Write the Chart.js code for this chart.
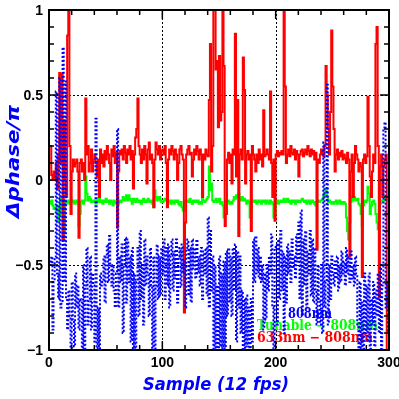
<!DOCTYPE html>
<html>
<head>
<meta charset="utf-8">
<script src="https://cdn.jsdelivr.net/npm/chart.js@4/dist/chart.umd.min.js"></script>
<style>
html,body{margin:0;padding:0;background:#fff;}
#wrap{width:399px;height:399px;position:relative;}
</style>
</head>
<body>
<div id="wrap"><canvas id="c" width="399" height="399"></canvas></div>
<script>
// sample index (frames 0..299)
const samples = [
0,1,2,3,4,5,6,7,8,9,10,11,12,13,14,15,16,17,18,19,
20,21,22,23,24,25,26,27,28,29,30,31,32,33,34,35,36,37,38,39,
40,41,42,43,44,45,46,47,48,49,50,51,52,53,54,55,56,57,58,59,
60,61,62,63,64,65,66,67,68,69,70,71,72,73,74,75,76,77,78,79,
80,81,82,83,84,85,86,87,88,89,90,91,92,93,94,95,96,97,98,99,
100,101,102,103,104,105,106,107,108,109,110,111,112,113,114,115,116,117,118,119,
120,121,122,123,124,125,126,127,128,129,130,131,132,133,134,135,136,137,138,139,
140,141,142,143,144,145,146,147,148,149,150,151,152,153,154,155,156,157,158,159,
160,161,162,163,164,165,166,167,168,169,170,171,172,173,174,175,176,177,178,179,
180,181,182,183,184,185,186,187,188,189,190,191,192,193,194,195,196,197,198,199,
200,201,202,203,204,205,206,207,208,209,210,211,212,213,214,215,216,217,218,219,
220,221,222,223,224,225,226,227,228,229,230,231,232,233,234,235,236,237,238,239,
240,241,242,243,244,245,246,247,248,249,250,251,252,253,254,255,256,257,258,259,
260,261,262,263,264,265,266,267,268,269,270,271,272,273,274,275,276,277,278,279,
280,281,282,283,284,285,286,287,288,289,290,291,292,293,294,295,296,297,298,299];

const red633 = [
0.20,0.20,0.03,0.00,0.05,0.00,0.10,-0.05,0.15,0.63,0.10,0.62,-0.35,0.35,0.00,-0.10,0.85,1.05,0.20,-0.20,
0.05,0.12,0.08,0.10,0.12,0.05,-0.34,0.10,0.12,0.05,0.10,0.00,0.48,0.15,0.20,0.05,0.10,0.18,0.05,0.12,
0.15,0.10,0.02,0.12,-0.10,0.18,0.10,0.15,0.08,0.17,0.12,0.20,0.15,0.10,0.00,0.18,0.14,0.20,0.10,0.16,
-0.28,0.05,0.17,0.15,0.18,0.12,0.20,0.16,0.10,0.18,0.15,0.20,0.12,0.17,-0.05,0.15,0.25,0.30,0.48,0.20,
0.15,0.10,0.18,0.12,0.20,0.15,-0.02,0.18,0.22,0.12,0.15,0.10,-0.16,0.12,0.22,0.18,0.15,0.20,0.12,0.17,
0.18,0.15,0.20,0.10,-0.16,0.12,0.18,0.15,0.20,0.17,0.12,0.18,0.15,0.00,0.10,0.18,0.20,0.15,0.12,-0.78,
-0.25,0.15,0.18,0.20,0.15,0.16,0.02,0.12,0.18,0.15,0.20,0.17,0.12,0.18,0.15,-0.10,0.15,0.12,0.18,0.15,
0.14,0.47,0.80,0.05,0.20,1.05,1.05,0.65,0.70,0.31,0.73,0.35,0.40,1.05,0.67,-0.27,-0.20,0.12,0.16,0.10,
0.15,-0.02,0.18,0.15,0.86,0.02,0.47,-0.33,0.15,0.18,0.12,0.72,0.53,-0.02,0.15,0.17,0.12,0.15,-0.30,0.20,
0.15,0.12,0.05,0.15,0.10,0.18,0.12,0.15,0.08,0.41,0.14,0.15,0.18,0.15,0.12,0.52,0.10,-0.10,0.12,-0.24,
0.15,0.17,0.14,0.16,0.15,0.17,0.15,1.05,0.55,0.10,0.15,0.18,0.14,0.20,0.16,0.15,0.18,0.12,0.17,0.15,
0.02,0.15,0.17,0.18,0.14,0.16,0.18,0.15,0.20,0.17,0.14,0.18,0.15,0.17,0.12,0.16,-0.41,0.12,0.10,0.15,
0.18,0.15,0.14,0.20,0.67,0.50,0.30,0.15,0.40,0.88,0.55,0.30,0.05,0.15,0.18,0.12,0.16,0.14,0.17,0.12,
0.15,0.13,0.10,0.16,0.12,-0.45,0.05,0.15,-0.10,0.10,0.20,0.15,0.12,0.05,0.10,0.08,-0.57,0.12,0.15,0.10,
0.14,0.49,0.20,0.02,-0.10,0.05,0.15,0.10,0.80,0.90,0.20,-0.69,0.08,0.15,-0.10,0.08,0.12,0.15,-1.05,-1.05];

const greenTunable = [
-0.13,-0.14,-0.12,-0.15,-0.17,-0.16,-0.18,-0.15,-0.24,-0.20,-0.10,-0.12,-0.35,-0.30,-0.13,-0.14,-0.12,-0.13,-0.14,-0.12,
-0.13,-0.12,-0.14,-0.13,-0.12,-0.14,-0.27,-0.20,-0.13,-0.12,-0.14,-0.12,0.02,-0.08,-0.12,-0.10,-0.11,-0.13,-0.12,-0.13,
-0.12,-0.14,-0.12,-0.13,-0.11,-0.13,-0.12,-0.14,-0.12,-0.13,-0.11,-0.13,-0.12,-0.14,-0.12,-0.13,-0.15,-0.12,-0.13,-0.14,
-0.15,-0.14,-0.12,-0.13,-0.12,-0.10,-0.12,-0.11,-0.09,-0.12,-0.09,-0.11,-0.12,-0.14,-0.11,-0.12,-0.13,-0.11,-0.12,-0.13,
-0.12,-0.14,-0.12,-0.11,-0.13,-0.12,-0.13,-0.11,-0.12,-0.13,-0.12,-0.14,-0.16,-0.06,-0.10,-0.12,-0.11,-0.10,-0.12,-0.13,
-0.13,-0.12,-0.11,-0.12,-0.11,-0.13,-0.12,-0.14,-0.12,-0.13,-0.14,-0.12,-0.13,-0.12,-0.14,-0.15,-0.13,-0.16,-0.18,-0.18,
-0.12,-0.13,-0.12,-0.13,-0.11,-0.13,-0.14,-0.12,-0.13,-0.12,-0.13,-0.12,-0.14,-0.13,-0.14,-0.11,-0.12,-0.13,-0.12,-0.11,
-0.10,0.08,-0.06,-0.02,-0.12,-0.13,-0.12,-0.11,-0.13,-0.12,-0.11,-0.14,-0.13,-0.15,-0.22,-0.18,-0.12,-0.13,-0.12,-0.14,
-0.13,-0.14,-0.12,-0.10,-0.11,-0.09,-0.10,-0.08,-0.11,-0.12,-0.10,-0.12,-0.11,-0.12,-0.14,-0.12,-0.13,-0.22,-0.18,-0.12,
-0.12,-0.13,-0.12,-0.14,-0.13,-0.12,-0.13,-0.14,-0.12,-0.13,-0.12,-0.14,-0.12,-0.13,-0.14,-0.12,-0.13,-0.14,-0.22,-0.20,
-0.13,-0.12,-0.14,-0.13,-0.12,-0.13,-0.12,-0.11,-0.13,-0.12,-0.11,-0.13,-0.12,-0.14,-0.12,-0.13,-0.12,-0.14,-0.12,-0.13,
-0.12,-0.13,-0.12,-0.11,-0.12,-0.13,-0.12,-0.14,-0.13,-0.12,-0.14,-0.13,-0.12,-0.13,-0.14,-0.15,-0.13,-0.12,-0.13,-0.12,
-0.12,-0.11,-0.10,-0.08,-0.05,-0.10,-0.13,-0.12,-0.13,-0.14,-0.13,-0.14,-0.13,-0.12,-0.14,-0.13,-0.12,-0.14,-0.13,-0.14,
-0.13,-0.14,-0.22,-0.30,-0.35,-0.25,-0.13,-0.10,-0.12,-0.10,-0.11,-0.12,-0.11,-0.14,-0.15,-0.20,-0.27,-0.15,-0.12,-0.13,
-0.12,-0.04,-0.08,-0.20,-0.15,-0.13,-0.12,-0.14,-0.20,-0.25,-0.29,-0.20,-0.14,-0.12,-0.13,-0.12,-0.11,-0.12,-0.10,-0.11];

const blue808 = [
-0.48,-0.50,-0.45,-0.88,-0.60,-0.45,0.52,-0.55,-0.70,0.60,-0.75,-0.72,0.78,-0.60,0.58,-0.70,-0.88,-0.65,-0.80,-1.05,
-0.60,-0.82,-0.98,-0.55,-0.75,-0.62,-0.88,-0.70,-0.72,-1.05,-0.50,-1.05,-0.62,-0.40,-0.85,-0.70,-0.45,-0.88,-0.55,-0.62,
-0.95,0.36,-1.05,-0.75,-1.05,-0.55,-0.62,-0.60,-0.45,-0.72,-0.45,-0.38,-0.60,-0.33,-0.50,-0.62,-0.50,-0.65,-0.75,-0.55,
0.30,-0.75,-0.45,-0.60,-0.38,-0.90,-0.50,-0.34,-0.72,-0.35,-0.60,-0.45,-0.95,-0.40,-1.05,-0.55,-1.05,-0.60,-0.40,-0.80,
-0.30,-0.70,-0.50,-0.85,-0.35,-0.62,-0.45,-0.55,-0.80,-0.40,-0.62,-1.05,-0.45,-1.05,-0.62,-0.38,-0.70,-0.45,-0.68,-0.40,
-0.55,-0.35,-0.70,-0.40,-0.62,-0.38,-0.75,-0.45,-0.35,-0.65,-0.42,-0.58,-0.35,-0.72,-0.45,-0.40,-0.63,-0.38,-0.55,-0.48,
-0.75,-0.40,-0.35,-0.68,-0.40,-0.72,-0.35,-0.52,-0.40,-0.58,-0.35,-0.55,-0.45,-0.62,-0.40,-0.70,-0.42,-0.55,-0.40,-0.68,
-0.22,-0.75,-0.30,-0.65,-0.45,-1.05,-0.50,-1.05,-0.62,-1.05,-0.45,-0.98,-0.55,-1.05,-0.48,-1.05,-0.42,-0.80,-0.40,-0.72,
-0.45,-0.80,-0.40,-0.65,-0.38,-0.95,-0.42,-0.75,-0.45,-0.90,-0.65,-1.05,-0.70,-1.05,-0.68,-0.98,-0.75,-1.05,-0.70,-0.95,
-0.35,-0.60,-0.33,-0.55,-0.40,-0.58,-0.45,-0.60,-0.50,-0.88,-0.55,-0.82,-0.50,-0.65,-0.45,-0.55,-0.32,-0.75,-1.05,-0.40,
-0.38,-0.85,-0.35,-0.70,-0.30,-0.65,-0.42,-0.90,-0.45,-0.72,-0.38,-0.55,-0.42,-0.60,-0.35,-0.52,-0.45,-0.58,-0.32,-0.48,
-0.25,-0.70,-0.18,-0.80,-0.35,-0.62,-0.30,-0.75,-0.42,-0.55,-0.30,-0.68,-0.35,-0.72,-0.40,-0.65,-0.85,-0.50,-0.70,-0.85,
-0.50,-0.90,0.22,-0.75,-0.60,0.56,-0.85,-0.50,-0.70,-0.45,-0.55,-0.62,-0.48,-0.58,-0.45,-0.65,-0.50,-0.60,-0.42,-0.55,
-0.48,-0.62,-0.40,-0.55,-0.45,-0.60,-0.42,-0.58,-0.50,-0.62,-0.45,-0.55,-0.85,-1.05,-0.60,-1.05,-0.72,-1.05,-0.55,-0.90,
-0.62,-0.95,-0.55,-1.05,-0.70,-0.85,-0.60,-0.98,-0.65,-0.80,-0.55,-0.90,-0.50,-1.05,-0.62,0.30,0.34,-0.75,-0.60,-0.90];

const xTickValues = [0,100,200,300];
const xTickLabels = ["0","100","200","300"];
const yTickValues = [1,0.5,0,-0.5,-1];
const yTickLabels = ["1","0.5","0","\u22120.5","\u22121"];
const legendLines = ["808nm","Tunable \u2212 808nm","633nm \u2212 808nm"];
const xTitle = "Sample (12 fps)";
const yTitle = "\u0394phase/\u03c0";

const BLUE = "#0000ff", GREEN = "#00ff00", RED = "#ff0000";

function pts(arr){ return samples.map((s,i)=>({x:s,y:arr[i]})); }

function drawScaled(ctx, text, x, y, targetW){
  const w = ctx.measureText(text).width;
  ctx.save();
  ctx.translate(x, y);
  ctx.scale(targetW / w, 1);
  ctx.textAlign = 'left';
  ctx.fillText(text, 0, 0);
  ctx.restore();
}

const framePlugin = {
  id: 'frame',
  beforeDatasetsDraw(chart){
    const {ctx, chartArea:a, scales:{x, y}} = chart;
    ctx.save();
    ctx.strokeStyle = '#000';
    ctx.lineWidth = 1;
    ctx.setLineDash([2,2]);
    [100,200].forEach(v=>{
      const px = Math.round(x.getPixelForValue(v))+0.5;
      ctx.beginPath(); ctx.moveTo(px,a.top); ctx.lineTo(px,a.bottom); ctx.stroke();
    });
    [0.5,0,-0.5].forEach(v=>{
      const py = Math.round(y.getPixelForValue(v))+0.5;
      ctx.beginPath(); ctx.moveTo(a.left,py); ctx.lineTo(a.right,py); ctx.stroke();
    });
    ctx.setLineDash([]);
    ctx.font = 'bold 14px "DejaVu Serif"';
    ctx.textBaseline = 'alphabetic';
    const cols = [BLUE, GREEN, RED];
    const lx = [288, 257, 257];
    const lw = [44, 121, 116];
    const ly = [318, 330, 342];
    legendLines.forEach((t,i)=>{
      ctx.fillStyle = cols[i];
      drawScaled(ctx, t, lx[i], ly[i], lw[i]);
    });
    ctx.restore();
  },
  afterDatasetsDraw(chart){
    const {ctx, chartArea:a, scales:{x, y}} = chart;
    ctx.save();
    ctx.strokeStyle = '#000';
    ctx.lineWidth = 2;
    ctx.strokeRect(a.left, a.top, a.right-a.left, a.bottom-a.top);
    ctx.lineWidth = 1.5;
    for (let v=0; v<=300; v+=20){
      const px = x.getPixelForValue(v);
      const len = (v%100===0) ? 9 : 5;
      ctx.beginPath();
      ctx.moveTo(px, a.bottom); ctx.lineTo(px, a.bottom-len);
      ctx.moveTo(px, a.top); ctx.lineTo(px, a.top+len);
      ctx.stroke();
    }
    for (let k=-10; k<=10; k++){
      const py = y.getPixelForValue(k/10);
      const len = (k%5===0) ? 9 : 5;
      ctx.beginPath();
      ctx.moveTo(a.left, py); ctx.lineTo(a.left+len, py);
      ctx.moveTo(a.right, py); ctx.lineTo(a.right-len, py);
      ctx.stroke();
    }
    ctx.fillStyle = '#000';
    ctx.font = 'bold 14px "Liberation Sans"';
    ctx.textBaseline = 'alphabetic';
    ctx.textAlign = 'center';
    xTickValues.forEach((v,i)=>{
      ctx.fillText(xTickLabels[i], x.getPixelForValue(v), a.bottom + 17);
    });
    ctx.textAlign = 'right';
    ctx.textBaseline = 'middle';
    yTickValues.forEach((v,i)=>{
      ctx.fillText(yTickLabels[i], a.left - 6, y.getPixelForValue(v) + 1);
    });
    ctx.fillStyle = BLUE;
    ctx.font = 'italic bold 18px "DejaVu Sans"';
    ctx.textBaseline = 'alphabetic';
    drawScaled(ctx, xTitle, 143, 390, 146);
    ctx.save();
    ctx.translate(19, 218);
    ctx.rotate(-Math.PI/2);
    drawScaled(ctx, yTitle, 0, 0, 113);
    ctx.restore();
    ctx.restore();
  }
};

new Chart(document.getElementById('c'), {
  type: 'line',
  data: {
    datasets: [
      {label:'808nm', data: pts(blue808), borderColor: BLUE, borderWidth: 2, borderDash:[2,2], pointRadius:0, stepped:true, order:0},
      {label:'633nm - 808nm', data: pts(red633), borderColor: RED, borderWidth: 2, pointRadius:0, stepped:true, order:1},
      {label:'Tunable - 808nm', data: pts(greenTunable), borderColor: GREEN, borderWidth: 2, pointRadius:0, stepped:true, order:2}
    ]
  },
  options: {
    responsive: false,
    animation: false,
    layout: {padding: {top:10, right:10, left:0, bottom:0}},
    plugins: {legend:{display:false}, tooltip:{enabled:false}},
    scales: {
      x: {
        type:'linear', min:0, max:300,
        grid:{display:false, drawTicks:false}, border:{display:false},
        ticks:{display:false},
        afterFit(s){ s.height = 49; }
      },
      y: {
        min:-1, max:1,
        grid:{display:false, drawTicks:false}, border:{display:false},
        ticks:{display:false},
        afterFit(s){ s.width = 49; }
      }
    }
  },
  plugins:[framePlugin]
});
</script>
</body>
</html>
